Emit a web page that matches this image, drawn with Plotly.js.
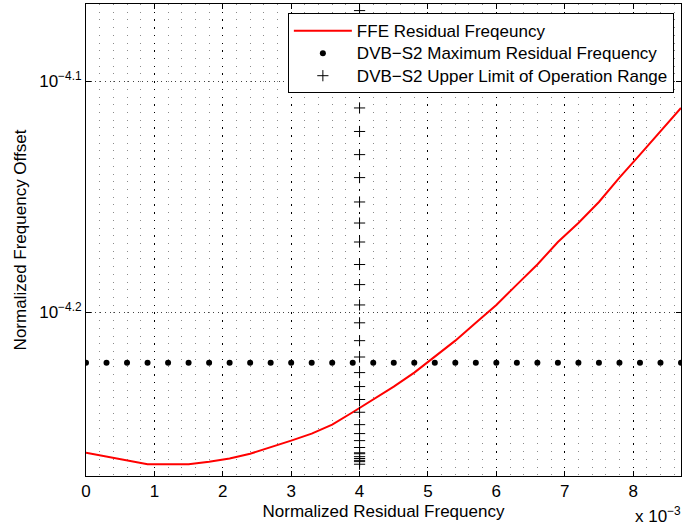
<!DOCTYPE html>
<html>
<head>
<meta charset="utf-8">
<script src="https://cdn.plot.ly/plotly-3.0.1.min.js"></script>
<style>html,body{margin:0;padding:0;background:#fff;}#chart{width:700px;height:523px;}</style>
</head>
<body>
<div id="chart"></div>
<script>
// FFE residual frequency curve
const ffeX = [0, 0.0003, 0.0006, 0.0009, 0.0012, 0.0015, 0.0018, 0.0021, 0.0024, 0.0027,
  0.0030, 0.0033, 0.0036, 0.0039, 0.0042, 0.0045, 0.0048, 0.0051, 0.0054, 0.0057,
  0.0060, 0.0063, 0.0066, 0.0069, 0.0072, 0.0075, 0.0078, 0.0081, 0.0084, 0.0087];
const ffeY = [5.486e-5, 5.465e-5, 5.445e-5, 5.424e-5, 5.424e-5, 5.424e-5, 5.438e-5, 5.455e-5, 5.481e-5, 5.515e-5,
  5.553e-5, 5.592e-5, 5.642e-5, 5.712e-5, 5.785e-5, 5.860e-5, 5.942e-5, 6.035e-5, 6.134e-5, 6.244e-5,
  6.356e-5, 6.486e-5, 6.617e-5, 6.767e-5, 6.896e-5, 7.042e-5, 7.215e-5, 7.382e-5, 7.554e-5, 7.733e-5];

// DVB-S2 maximum residual frequency (dotted constant)
const maxX = [0, 0.0003, 0.0006, 0.0009, 0.0012, 0.0015, 0.0018, 0.0021, 0.0024, 0.0027,
  0.0030, 0.0033, 0.0036, 0.0039, 0.0042, 0.0045, 0.0048, 0.0051, 0.0054, 0.0057,
  0.0060, 0.0063, 0.0066, 0.0069, 0.0072, 0.0075, 0.0078, 0.0081, 0.0084, 0.0087];
const maxY = [6e-5, 6e-5, 6e-5, 6e-5, 6e-5, 6e-5, 6e-5, 6e-5, 6e-5, 6e-5,
  6e-5, 6e-5, 6e-5, 6e-5, 6e-5, 6e-5, 6e-5, 6e-5, 6e-5, 6e-5,
  6e-5, 6e-5, 6e-5, 6e-5, 6e-5, 6e-5, 6e-5, 6e-5, 6e-5, 6e-5];

// DVB-S2 upper limit of operation range (vertical '+' markers)
const upX = [0.004, 0.004, 0.004, 0.004, 0.004, 0.004, 0.004, 0.004, 0.004, 0.004, 0.004,
  0.004, 0.004, 0.004, 0.004, 0.004, 0.004, 0.004, 0.004, 0.004, 0.004, 0.004,
  0.004, 0.004, 0.004, 0.004, 0.004, 0.004, 0.004, 0.004, 0.004, 0.004];
const upY = [5.424e-5, 5.438e-5, 5.445e-5, 5.455e-5, 5.465e-5, 5.481e-5, 5.486e-5, 5.515e-5,
  5.553e-5, 5.592e-5, 5.642e-5, 5.712e-5, 5.785e-5, 5.860e-5, 5.942e-5, 6.035e-5, 6.134e-5,
  6.244e-5, 6.356e-5, 6.486e-5, 6.617e-5, 6.767e-5, 6.896e-5, 7.042e-5, 7.215e-5, 7.382e-5,
  7.554e-5, 7.733e-5, 7.896e-5, 8.096e-5, 8.303e-5, 8.520e-5];

const seriesNames = ['FFE Residual Freqeuncy', 'DVB\u2212S2 Maximum Residual Frequency',
  'DVB\u2212S2 Upper Limit of Operation Range'];

const xTickVals = [0, 0.001, 0.002, 0.003, 0.004, 0.005, 0.006, 0.007, 0.008];
const xTickText = ['0', '1', '2', '3', '4', '5', '6', '7', '8'];
const yTickVals = [Math.pow(10, -4.2), Math.pow(10, -4.1)];
const yTickText = ['10<sup>\u22124.2</sup>', '10<sup>\u22124.1</sup>'];

const FONT = '"Liberation Sans", Arial, Helvetica, sans-serif';
const FS = 17;
const big = s => '<span style="font-size:' + FS + 'px">' + s + '</span>';

const traces = [
  {x: ffeX, y: ffeY, type: 'scatter', mode: 'lines', name: big(seriesNames[0]),
   line: {color: '#ff0000', width: 2}},
  {x: maxX, y: maxY, type: 'scatter', mode: 'markers', name: big(seriesNames[1]),
   marker: {symbol: 'circle', size: 6, color: '#000'}},
  {x: upX, y: upY, type: 'scatter', mode: 'markers', name: big(seriesNames[2]),
   marker: {symbol: 'cross-thin-open', size: 8, color: '#000', line: {color: '#000', width: 1}}}
];

const layout = {
  width: 700, height: 523,
  margin: {l: 86, r: 19, t: 4, b: 47},
  paper_bgcolor: '#fff', plot_bgcolor: '#fff',
  font: {family: FONT, size: FS, color: '#000'},
  showlegend: true,
  legend: {
    x: 0.988, xanchor: 'right', y: 0.980, yanchor: 'top',
    bgcolor: '#fff', bordercolor: '#000', borderwidth: 1,
    font: {family: FONT, size: 15, color: '#000'},
    itemwidth: 58, tracegroupgap: 0
  },
  xaxis: {
    range: [0, 0.0087], autorange: false,
    tickmode: 'array', tickvals: xTickVals, ticktext: xTickText,
    ticks: 'inside', ticklen: 5, tickcolor: '#000', tickwidth: 1,
    showline: true, linecolor: '#000', linewidth: 1, mirror: 'ticks',
    showgrid: true, gridcolor: '#000', gridwidth: 1, griddash: '1.5px,6.21px',
    zeroline: false,
    tickfont: {family: FONT, size: FS, color: '#000'},
    title: {text: 'Normalized Residual Frequency', font: {family: FONT, size: FS, color: '#000'}, standoff: 4},
    minor: {tick0: 0, dtick: 0.0002, showgrid: true, gridcolor: '#8a8a8a', gridwidth: 1, griddash: '1px,6.71px'}
  },
  yaxis: {
    type: 'log', range: [-4.27077, -4.06671], autorange: false,
    tickmode: 'array', tickvals: yTickVals, ticktext: yTickText,
    ticks: 'inside', ticklen: 5, tickcolor: '#000', tickwidth: 1,
    showline: true, linecolor: '#000', linewidth: 1, mirror: 'ticks',
    showgrid: true, gridcolor: '#444', gridwidth: 1, griddash: '1px,3.7px',
    zeroline: false,
    tickfont: {family: FONT, size: FS, color: '#000'},
    title: {text: 'Normalized Frequency Offset', font: {family: FONT, size: FS, color: '#000'}, standoff: 8}
  },
  annotations: [
    {xref: 'paper', yref: 'paper', x: 1.004, y: -0.083, xanchor: 'right', yanchor: 'middle',
     text: 'x 10<sup>\u22123</sup>', showarrow: false, font: {family: FONT, size: FS, color: '#000'}}
  ]
};

Plotly.newPlot('chart', traces, layout, {displayModeBar: false, staticPlot: true});
</script>
</body>
</html>
